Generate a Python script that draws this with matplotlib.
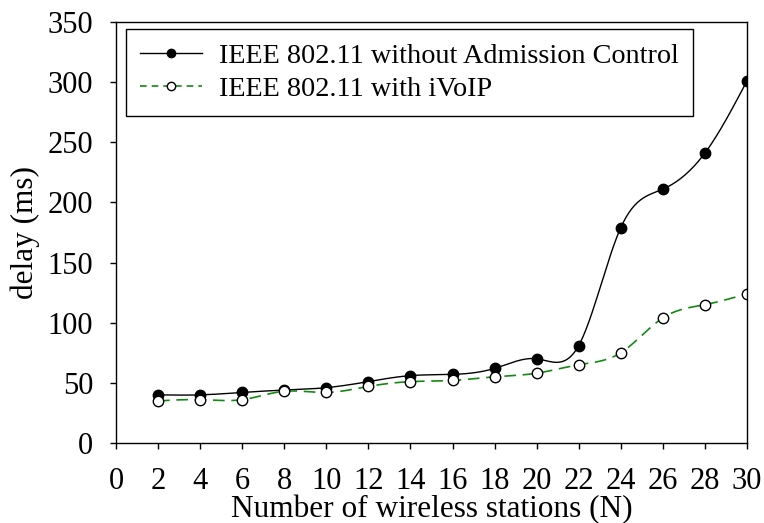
import numpy as np
import matplotlib.pyplot as plt

# datos
stations = [2, 4, 6, 8, 10, 12, 14, 16, 18, 20, 22, 24, 26, 28, 30]
delay_no_ac = [40, 40, 42, 44, 46, 51, 56, 57, 62, 70, 81, 179, 211, 241, 301]
delay_ivoip = [35, 36, 36, 43, 42, 47, 51, 52, 55, 58, 65, 75, 104, 115, 124]
x_ticks = list(range(0, 31, 2))
y_ticks = list(range(0, 351, 50))


def natural_spline(x, y, n=400):
    # spline cubica natural para dibujar la linea suavizada
    x = np.asarray(x, float)
    y = np.asarray(y, float)
    k = len(x)
    h = np.diff(x)
    A = np.zeros((k, k))
    b = np.zeros(k)
    A[0, 0] = A[-1, -1] = 1
    for i in range(1, k - 1):
        A[i, i - 1] = h[i - 1]
        A[i, i] = 2 * (h[i - 1] + h[i])
        A[i, i + 1] = h[i]
        b[i] = 6 * ((y[i + 1] - y[i]) / h[i] - (y[i] - y[i - 1]) / h[i - 1])
    M = np.linalg.solve(A, b)
    xs = np.linspace(x[0], x[-1], n)
    idx = np.clip(np.searchsorted(x, xs) - 1, 0, k - 2)
    x0, x1 = x[idx], x[idx + 1]
    hi = x1 - x0
    ys = (M[idx] * (x1 - xs) ** 3 / (6 * hi) + M[idx + 1] * (xs - x0) ** 3 / (6 * hi)
          + (y[idx] / hi - M[idx] * hi / 6) * (x1 - xs)
          + (y[idx + 1] / hi - M[idx + 1] * hi / 6) * (xs - x0))
    return xs, ys


plt.rcParams['font.family'] = ['Liberation Serif', 'DejaVu Serif']
verde = '#128a12'

fig = plt.figure(figsize=(7.64, 5.23), dpi=100)
ax = fig.add_axes([0.1518, 0.153, 0.8259, 0.805])

xs, ys = natural_spline(stations, delay_no_ac)
ax.plot(xs, ys, color='black', lw=1.0)
ax.plot(stations, delay_no_ac, 'o', color='black', ms=7.5, mec='black')

xs2, ys2 = natural_spline(stations, delay_ivoip)
ax.plot(xs2, ys2, color=verde, lw=1.2, dashes=(7, 4))
ax.plot(stations, delay_ivoip, 'o', color='black', mfc='white', ms=7.5, mew=1.0)

# entradas de la leyenda
ax.plot([], [], '-o', color='black', ms=6, lw=1.0,
        label='IEEE 802.11 without Admission Control')
ax.plot([], [], '--o', color=verde, mfc='white', mec='black', ms=6, lw=1.2,
        dashes=(4, 3), label='IEEE 802.11 with iVoIP')

ax.set_xlim(0, 30)
ax.set_ylim(0, 350)
ax.set_xticks(x_ticks)
ax.set_yticks(y_ticks)
ax.tick_params(direction='out', length=4.5, width=1, labelsize=22)
ax.tick_params(axis='x', pad=13)
ax.tick_params(axis='y', pad=12)
for s in ax.spines.values():
    s.set_linewidth(1.0)

ax.set_xlabel('Number of wireless stations (N)', fontsize=22.5, labelpad=-1)
ax.set_ylabel('delay (ms)', fontsize=22.5, labelpad=5)

leg = ax.legend(loc='upper left', fontsize=20.3, frameon=True, fancybox=False,
                edgecolor='black', framealpha=1, borderpad=0.5,
                labelspacing=0.25, handlelength=2.2, handletextpad=0.6,
                borderaxespad=0, bbox_to_anchor=(126 / 764, 1 - 29 / 523),
                bbox_transform=fig.transFigure)
leg.get_frame().set_linewidth(1.0)

plt.savefig('out.png')
